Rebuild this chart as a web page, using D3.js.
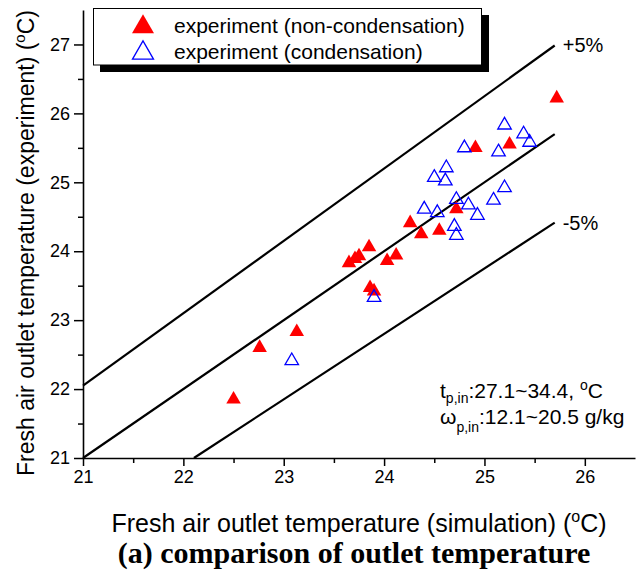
<!DOCTYPE html>
<html>
<head>
<meta charset="utf-8">
<script src="https://cdn.jsdelivr.net/npm/d3@7"></script>
<style>
  html, body { margin: 0; padding: 0; background: #fff; }
  svg { display: block; }
  text { font-family: "Liberation Sans", Arial, sans-serif; fill: #000; }
</style>
</head>
<body>
<script>
// ---------------- data ----------------
const nonCondSim = [25.72, 24.91, 25.25, 24.72, 24.26, 24.55, 24.37, 23.85, 23.75, 23.71, 23.65, 24.12, 24.03, 23.86, 23.90, 23.13, 22.76, 22.50];
const nonCondExp = [26.22, 25.50, 25.55, 24.61, 24.41, 24.30, 24.25, 24.06, 23.93, 23.89, 23.83, 23.94, 23.86, 23.47, 23.42, 22.83, 22.60, 21.85];
const condSim = [25.20, 25.39, 25.45, 24.80, 25.14, 24.62, 24.50, 24.61, 25.20, 25.09, 24.72, 24.84, 24.40, 24.53, 24.93, 24.70, 24.72, 23.90, 23.08];
const condExp = [25.83, 25.70, 25.58, 25.50, 25.44, 25.21, 25.07, 25.02, 24.92, 24.74, 24.75, 24.67, 24.61, 24.56, 24.52, 24.36, 24.23, 23.33, 22.41];
const xTicks = [21, 22, 23, 24, 25, 26];
const yTicks = [21, 22, 23, 24, 25, 26, 27];
const xMinor = [21.5, 22.5, 23.5, 24.5, 25.5];
const yMinor = [21.5, 22.5, 23.5, 24.5, 25.5, 26.5];
const refFactors = [1.05, 1.0, 0.95];
const refLabels = ["+5%", "", "-5%"];
const refXEnd = 25.7;
const legendLabels = ["experiment (non-condensation)", "experiment (condensation)"];

// ---------------- layout ----------------
const W = 637, H = 573;
const svg = d3.select("body").append("svg").attr("width", W).attr("height", H);

const x = d3.scaleLinear().domain([21, 26.5]).range([83, 635]);
const y = d3.scaleLinear().domain([21, 27.5]).range([458, 10]);

// reference lines
const refG = svg.append("g");
refFactors.forEach((f, i) => {
  const x0 = Math.max(21, 21 / f);
  refG.append("line")
    .attr("x1", x(x0)).attr("y1", y(f * x0))
    .attr("x2", x(refXEnd)).attr("y2", y(f * refXEnd))
    .attr("stroke", "#000").attr("stroke-width", 2.2);
  if (refLabels[i]) {
    refG.append("text")
      .attr("x", x(refXEnd) + 8).attr("y", y(f * refXEnd) + 7)
      .attr("font-size", 20)
      .text(refLabels[i]);
  }
});

// axes
svg.append("g").attr("transform", `translate(0,${y(21)})`)
  .call(d3.axisBottom(x).tickValues(xTicks).tickFormat(d3.format("d")).tickSize(8).tickSizeOuter(0).tickPadding(4));
svg.append("g").attr("transform", `translate(0,${y(21)})`)
  .call(d3.axisBottom(x).tickValues(xMinor).tickFormat("").tickSize(5).tickSizeOuter(0))
  .select(".domain").remove();
svg.append("g").attr("transform", `translate(${x(21)},0)`)
  .call(d3.axisLeft(y).tickValues(yTicks).tickFormat(d3.format("d")).tickSize(9).tickSizeOuter(0).tickPadding(4));
svg.append("g").attr("transform", `translate(${x(21)},0)`)
  .call(d3.axisLeft(y).tickValues(yMinor).tickFormat("").tickSize(5).tickSizeOuter(0))
  .select(".domain").remove();
svg.selectAll(".domain").attr("stroke-width", 1.6);
svg.selectAll(".tick line").attr("stroke-width", 1.5);
svg.selectAll(".tick text").attr("font-size", 18);

// triangle path generator
function tri(side) {
  const h = side * Math.sqrt(3) / 2;
  return `M0,${-2 * h / 3}L${side / 2},${h / 3}L${-side / 2},${h / 3}Z`;
}

// points
svg.append("g").selectAll("path").data(nonCondSim.map((d, i) => [d, nonCondExp[i]]))
  .join("path")
  .attr("d", tri(14.5))
  .attr("transform", d => `translate(${x(d[0])},${y(d[1])})`)
  .attr("fill", "#ff0000");
svg.append("g").selectAll("path").data(condSim.map((d, i) => [d, condExp[i]]))
  .join("path")
  .attr("d", tri(13.5))
  .attr("transform", d => `translate(${x(d[0])},${y(d[1])})`)
  .attr("fill", "none").attr("stroke", "#0000ff").attr("stroke-width", 1.3);

// legend
const lg = svg.append("g");
lg.append("rect").attr("x", 100).attr("y", 15).attr("width", 389).attr("height", 57).attr("fill", "#000");
lg.append("rect").attr("x", 93.5).attr("y", 8.5).attr("width", 388).attr("height", 56.5)
  .attr("fill", "#fff").attr("stroke", "#000").attr("stroke-width", 1);
lg.append("path").attr("d", tri(22)).attr("transform", "translate(143,27)").attr("fill", "#ff0000");
lg.append("path").attr("d", tri(21)).attr("transform", "translate(143,53)")
  .attr("fill", "none").attr("stroke", "#0000ff").attr("stroke-width", 1.3);
legendLabels.forEach((t, i) => {
  lg.append("text").attr("x", 174).attr("y", 33 + i * 26).attr("font-size", 21).text(t);
});

// annotation
const ann = svg.append("text").attr("x", 440).attr("y", 398).attr("font-size", 21);
ann.append("tspan").text("t");
ann.append("tspan").attr("font-size", 14).attr("dy", 5).text("p,in");
ann.append("tspan").attr("dy", -5).text(":27.1~34.4, ");
ann.append("tspan").attr("font-size", 14).attr("dy", -8).text("o");
ann.append("tspan").attr("dy", 8).text("C");
const ann2 = svg.append("text").attr("x", 440).attr("y", 424).attr("font-size", 21);
ann2.append("tspan").text("ω");
ann2.append("tspan").attr("font-size", 14).attr("dy", 8).text("p,in");
ann2.append("tspan").attr("dy", -8).text(":12.1~20.5 g/kg");

// axis titles
const xt = svg.append("text").attr("x", 359).attr("y", 532).attr("text-anchor", "middle").attr("font-size", 25);
xt.append("tspan").text("Fresh air outlet temperature (simulation) (");
xt.append("tspan").attr("font-size", 16).attr("dy", -10).text("o");
xt.append("tspan").attr("dy", 10).text("C)");

const yt = svg.append("text").attr("transform", "translate(34,243) rotate(-90)").attr("text-anchor", "middle").attr("font-size", 23);
yt.append("tspan").text("Fresh air outlet temperature (experiment) (");
yt.append("tspan").attr("font-size", 15).attr("dy", -9).text("o");
yt.append("tspan").attr("dy", 9).text("C)");

// caption
svg.append("text").attr("x", 354).attr("y", 563).attr("text-anchor", "middle")
  .attr("font-size", 30).attr("font-weight", "bold")
  .style("font-family", "'Liberation Serif', 'Times New Roman', serif")
  .text("(a) comparison of outlet temperature");
</script>
</body>
</html>
